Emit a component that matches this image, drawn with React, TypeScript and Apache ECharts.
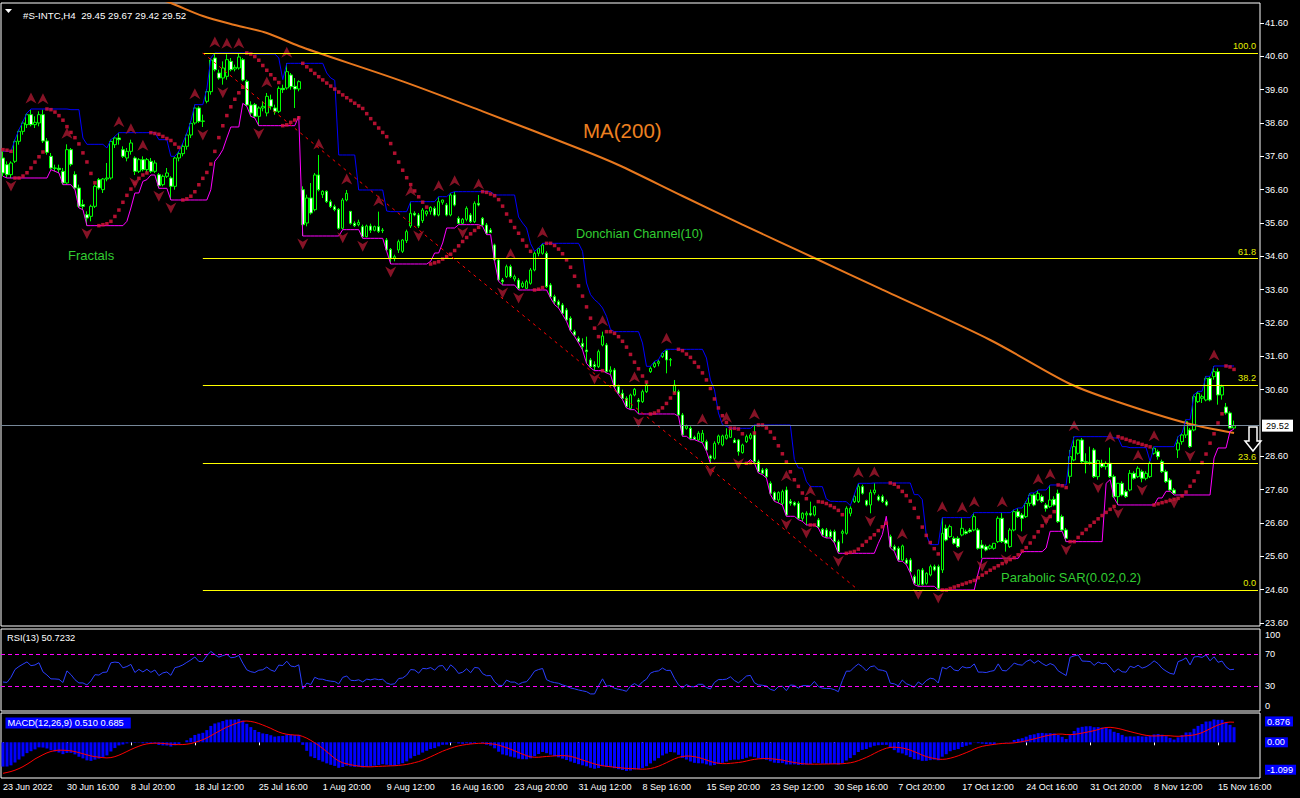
import React, { useEffect, useRef } from "react";
import * as echarts from "echarts";

const FONT = '"Liberation Sans", Arial, sans-serif';

const headerText = "#S-INTC,H4  29.45 29.67 29.42 29.52";
const rsiTitle = "RSI(13) 50.7232";
const macdTitle = "MACD(12,26,9) 0.510 0.685";

// H4 bars [open, high, low, close], 23 Jun 2022 12:00 .. 16 Nov 2022 20:00
const ohlc: number[][] = [
  [37.55,37.75,37.00,37.10],[37.35,37.45,36.95,37.05],[37.05,37.45,36.95,37.40],[37.45,38.10,37.40,38.05],
  [38.05,38.40,37.95,38.35],[38.35,38.65,38.25,38.60],[38.55,38.90,38.45,38.85],[38.85,39.02,38.50,38.55],
  [38.55,38.80,38.45,38.62],[38.60,38.95,38.50,38.85],[38.85,39.00,38.00,38.06],[38.06,38.15,37.65,37.72],
  [37.60,37.70,37.20,37.25],[37.25,37.35,37.15,37.24],[37.24,37.35,37.10,37.20],[37.15,37.25,36.75,36.80],
  [36.80,37.96,36.75,37.80],[37.80,37.85,37.30,37.36],[37.05,37.15,36.60,36.65],[36.65,36.75,36.05,36.10],
  [36.15,36.30,36.00,36.10],[35.85,35.95,35.52,35.75],[35.80,36.15,35.65,36.10],[36.10,36.75,36.05,36.70],
  [36.90,36.95,36.60,36.65],[36.60,36.95,36.50,36.92],[36.92,37.40,36.85,36.95],[36.95,38.10,36.90,38.05],
  [37.95,38.20,37.85,38.15],[38.15,38.31,37.95,38.10],[37.80,37.90,37.55,37.60],[37.55,37.85,37.45,37.75],
  [37.75,38.10,37.65,38.00],[37.55,37.60,37.04,37.15],[37.15,37.55,37.10,37.50],[37.50,37.60,37.15,37.20],
  [37.20,37.55,37.12,37.50],[37.45,37.55,37.10,37.15],[37.15,37.48,37.10,37.40],[37.05,37.10,36.64,36.72],
  [36.75,37.05,36.70,37.00],[37.00,37.25,36.95,37.10],[36.95,37.00,36.29,36.70],[36.70,37.60,36.60,37.55],
  [37.55,37.75,37.45,37.68],[37.68,38.00,37.60,37.90],[37.90,38.30,37.80,38.24],[38.24,38.65,38.15,38.59],
  [38.60,39.15,38.55,39.05],[39.05,39.10,38.60,38.65],[38.65,38.85,38.48,38.66],[39.25,39.62,39.19,39.54],
  [39.54,40.55,39.45,40.49],[40.55,40.70,40.15,40.20],[40.10,40.20,39.90,39.95],[39.95,40.45,39.75,40.25],
  [40.00,40.66,39.90,40.50],[40.45,40.55,40.15,40.20],[40.22,40.35,40.15,40.27],[40.25,40.67,40.20,40.58],
  [40.50,40.55,39.85,39.89],[39.85,39.90,39.10,39.14],[39.14,39.25,38.80,38.90],[39.15,39.20,38.75,38.80],
  [38.80,39.10,38.52,39.05],[39.05,39.25,38.95,39.10],[38.90,39.50,38.80,39.40],[39.30,39.45,39.00,39.10],
  [39.05,39.15,38.85,38.95],[38.95,39.70,38.90,39.64],[39.64,39.75,39.50,39.60],[39.65,40.39,39.60,40.14],
  [40.04,40.10,39.60,39.69],[39.70,39.95,39.05,39.62],[39.62,39.88,39.55,39.84],[36.60,36.70,35.21,35.55],
  [35.60,36.45,35.50,36.35],[36.35,36.80,35.85,35.90],[36.00,37.10,35.95,37.04],[37.04,37.64,36.55,36.60],
  [36.45,36.58,36.35,36.55],[36.55,36.58,36.20,36.24],[36.24,36.30,36.05,36.09],[36.09,36.15,35.95,36.00],
  [36.01,36.05,35.40,35.44],[35.44,36.35,35.40,36.29],[36.29,36.59,36.25,36.49],[35.95,35.96,35.55,35.59],
  [35.59,35.65,35.48,35.52],[35.55,35.70,35.50,35.62],[35.49,35.55,35.14,35.19],[35.19,35.55,35.17,35.51],
  [35.51,35.58,35.30,35.38],[35.38,35.52,35.35,35.49],[35.49,35.94,35.30,35.35],[35.37,35.45,35.30,35.39],
  [35.09,35.15,34.75,34.79],[34.81,34.85,34.37,34.54],[34.54,34.65,34.45,34.59],[34.79,35.10,34.70,35.04],
  [34.75,35.12,34.70,35.09],[35.07,35.40,35.00,35.34],[35.51,36.24,35.45,35.89],[35.89,35.95,35.80,35.84],
  [35.84,35.90,35.45,35.51],[35.67,36.05,35.60,35.99],[35.87,35.98,35.80,35.95],[35.95,36.10,35.85,36.07],
  [36.04,36.10,35.80,35.84],[35.84,36.39,35.80,36.24],[36.22,36.30,36.15,36.29],[36.14,36.20,35.80,35.84],
  [35.84,36.50,35.80,36.44],[36.44,36.54,36.10,36.14],[35.74,35.80,35.55,35.59],[35.59,35.75,35.55,35.71],
  [35.71,36.10,35.65,36.04],[35.84,35.90,35.60,35.64],[35.64,36.25,35.60,36.19],[36.19,36.44,36.10,36.14],
  [35.74,35.78,35.50,35.54],[35.54,35.60,35.25,35.29],[35.39,35.45,35.30,35.31],[34.94,34.98,34.45,34.49],
  [34.49,34.55,33.85,33.89],[33.89,33.95,33.74,33.84],[33.99,34.35,33.95,34.29],[34.29,34.35,33.95,33.99],
  [33.92,34.05,33.85,33.99],[33.89,33.95,33.59,33.64],[33.69,33.85,33.65,33.79],[33.64,33.90,33.62,33.84],
  [33.79,34.25,33.75,34.19],[34.19,34.75,34.15,34.69],[34.69,34.85,34.60,34.84],[34.69,34.99,34.65,34.94],
  [34.69,34.75,33.65,33.69],[33.74,33.80,33.35,33.39],[33.39,33.45,33.15,33.24],[33.24,33.30,33.05,33.14],
  [33.14,33.20,32.85,32.89],[32.99,33.05,32.65,32.69],[32.74,32.80,32.35,32.39],[32.34,32.40,32.20,32.24],
  [32.14,32.20,32.00,32.04],[31.99,32.14,31.79,31.89],[31.79,32.19,31.39,31.74],[31.49,31.55,31.25,31.29],
  [31.35,31.45,31.17,31.29],[31.29,31.80,31.25,31.74],[31.94,32.34,31.90,32.21],[31.94,32.00,31.10,31.14],
  [31.14,31.30,31.05,31.19],[31.19,31.25,30.65,30.69],[30.69,30.75,30.45,30.49],[30.49,30.60,30.30,30.34],
  [30.34,30.40,30.05,30.09],[30.04,30.48,30.00,30.44],[30.44,30.65,30.40,30.61],[30.29,30.35,29.87,30.24],
  [30.24,30.60,30.20,30.54],[30.54,30.80,30.50,30.74],[31.14,31.30,31.10,31.24],[31.29,31.45,31.25,31.39],
  [31.39,31.50,31.30,31.44],[31.59,31.72,31.55,31.69],[31.77,31.81,31.09,31.49],[31.49,31.55,31.30,31.50],
  [30.54,30.89,30.50,30.74],[30.54,30.60,29.80,29.84],[29.84,29.90,29.20,29.24],[29.44,29.55,29.40,29.51],
  [29.44,29.50,29.10,29.14],[29.17,29.22,29.10,29.11],[29.09,29.35,29.05,29.29],[29.04,29.39,29.00,29.29],
  [29.04,29.10,28.75,28.79],[28.61,28.65,28.39,28.54],[28.54,29.05,28.50,28.99],[29.01,29.25,28.95,29.21],
  [28.94,29.25,28.90,29.21],[29.14,29.44,29.10,29.24],[29.17,29.42,29.15,29.40],[29.09,29.15,29.00,29.01],
  [29.09,29.12,28.62,28.74],[28.71,28.98,28.68,28.94],[29.04,29.25,29.00,29.19],[29.14,29.30,29.10,29.24],
  [29.24,29.54,28.40,28.44],[28.44,28.50,28.10,28.14],[28.19,28.25,28.05,28.09],[28.21,28.25,27.95,27.99],
  [27.79,27.85,27.45,27.49],[27.51,27.55,27.25,27.29],[27.29,27.55,27.20,27.51],[27.19,27.60,27.14,27.54],
  [27.59,27.69,26.80,26.84],[27.25,27.32,27.12,27.19],[27.21,27.25,27.10,27.14],[27.19,27.25,26.70,26.74],
  [26.74,26.92,26.65,26.89],[26.84,26.95,26.54,26.89],[26.89,27.24,26.80,26.84],[26.84,27.12,26.80,27.09],
  [26.69,26.75,26.45,26.49],[26.41,26.45,26.20,26.24],[26.39,26.45,26.15,26.19],[26.34,26.40,26.15,26.19],
  [26.34,26.40,26.00,26.04],[26.04,26.10,25.69,25.74],[26.29,26.40,25.99,26.34],[26.29,27.10,26.25,27.04],
  [26.89,27.10,26.80,27.04],[27.24,27.45,27.20,27.39],[27.24,27.79,27.20,27.69],[27.69,27.75,27.45,27.49],
  [27.27,27.30,27.10,27.14],[27.14,27.60,26.89,27.51],[27.51,27.80,27.45,27.59],[27.39,27.45,27.25,27.29],
  [27.39,27.45,27.20,27.24],[27.24,27.30,27.10,27.14],[26.19,26.25,25.85,25.89],[25.89,25.95,25.75,25.79],
  [25.84,25.90,25.45,25.49],[25.49,25.95,25.45,25.91],[25.49,25.55,25.35,25.39],[25.49,25.55,25.10,25.14],
  [24.99,25.05,24.75,24.79],[24.74,25.20,24.70,25.19],[25.19,25.25,24.72,24.76],[24.79,25.12,24.75,25.09],
  [25.04,25.35,25.00,25.29],[25.29,25.35,25.15,25.19],[25.29,25.35,24.59,24.64],[25.19,26.76,25.10,26.29],
  [26.44,26.55,26.05,26.09],[26.19,26.55,26.15,26.49],[26.14,26.20,25.95,25.99],[26.14,26.20,25.85,25.89],
  [26.24,26.74,26.20,26.44],[26.34,26.40,26.25,26.29],[26.39,26.45,26.30,26.34],[26.39,26.91,26.35,26.79],
  [26.39,26.45,25.80,25.84],[25.94,26.09,25.54,25.84],[25.89,25.95,25.75,25.79],[25.84,25.95,25.80,25.91],
  [25.84,26.00,25.80,25.99],[26.04,26.80,26.00,26.74],[26.74,26.91,26.00,26.04],[26.09,26.15,25.74,25.99],
  [25.89,26.45,25.85,26.39],[26.39,27.00,26.35,26.94],[26.94,27.05,26.75,26.79],[26.84,26.90,26.35,26.74],
  [26.79,27.25,26.75,27.19],[27.19,27.50,27.10,27.44],[27.44,27.50,27.10,27.14],[27.29,27.59,27.25,27.49],
  [27.39,27.45,27.20,27.24],[27.14,27.20,26.94,27.04],[27.09,27.74,27.05,27.29],[27.31,27.40,27.10,27.14],
  [27.49,27.60,26.60,26.64],[26.79,26.85,26.35,26.39],[26.39,26.45,26.04,26.14],[28.00,28.79,27.79,28.59],
  [28.49,29.19,28.45,28.89],[28.69,29.10,28.65,29.09],[29.09,29.15,28.40,28.44],[28.44,28.69,28.09,28.42],
  [28.42,28.89,28.35,28.39],[28.79,28.85,27.95,27.99],[27.99,28.50,27.90,28.47],[28.39,28.50,28.25,28.29],
  [28.29,28.45,28.20,28.39],[28.39,28.86,27.95,27.99],[27.99,28.05,27.35,27.39],[27.39,27.80,27.14,27.79],
  [27.79,27.85,27.40,27.44],[27.54,27.60,27.35,27.39],[27.59,28.19,27.55,28.09],[28.09,28.15,27.90,27.94],
  [27.99,28.30,27.95,28.24],[28.14,28.20,27.82,27.94],[27.94,28.15,27.88,28.09],[27.99,28.45,27.95,28.39],
  [28.69,28.89,28.65,28.84],[28.74,28.80,28.50,28.59],[28.44,28.50,28.10,28.14],[28.14,28.20,27.80,27.84],
  [27.89,27.95,27.55,27.59],[27.59,27.65,27.44,27.49],[28.79,29.19,28.55,29.00],[29.04,29.30,28.95,29.24],
  [29.24,29.70,29.15,29.64],[29.39,29.45,28.85,28.89],[29.39,30.45,29.35,30.39],[30.24,30.55,30.20,30.49],
  [30.34,30.45,30.20,30.39],[30.29,31.00,30.25,30.94],[30.94,31.00,30.25,30.29],[30.99,31.31,30.90,31.14],
  [31.14,31.24,30.15,30.44],[30.44,30.75,30.30,30.69],[30.08,30.20,29.85,29.90],[29.90,29.95,29.44,29.45],
  [29.45,29.67,29.42,29.52],
];

const emptyRightBars = 6;
const tickEvery = 16;
const tickLabels = [
  "23 Jun 2022", "30 Jun 16:00", "8 Jul 20:00", "18 Jul 12:00", "25 Jul 16:00",
  "1 Aug 20:00", "9 Aug 12:00", "16 Aug 16:00", "23 Aug 20:00", "31 Aug 12:00",
  "8 Sep 16:00", "15 Sep 20:00", "23 Sep 12:00", "30 Sep 16:00", "7 Oct 20:00",
  "17 Oct 12:00", "24 Oct 16:00", "31 Oct 20:00", "8 Nov 12:00", "15 Nov 16:00",
];
// 29.60 is covered by the last-price label in the reference
const priceTicks = [41.6, 40.6, 39.6, 38.6, 37.6, 36.6, 35.6, 34.6, 33.6, 32.6, 31.6, 30.6, 28.6, 27.6, 26.6, 25.6, 24.6, 23.6];

// MA(200) at these bars
const maBars = [36, 42, 50, 58, 66, 74, 79, 100, 120, 145, 154, 170, 185, 203, 220, 247, 267, 279, 296, 308];
const maValues = [42.45, 42.2, 41.81, 41.54, 41.3, 40.91, 40.7, 39.85, 38.95, 37.79, 37.34, 36.41, 35.55, 34.55, 33.6, 32.09, 30.77, 30.23, 29.6, 29.3];

const fibFromBar = 50;
const fibHigh = 40.7;
const fibToBar = 214;
const fibLow = 24.59;
const fibLevels = [0, 23.6, 38.2, 61.8, 100];
const lastPrice = 29.52;

const donchianPeriod = 10;
const sarStep = 0.02;
const sarMax = 0.2;
const sarSeed = { up: false, sar: 37.8, ep: 37.0 };
const rsiPeriod = 13;
const rsiSeed = { gain: 0.1, loss: 0.186 };
const rsiLevels = [30, 70];
const macdFast = 12;
const macdSlow = 26;
const macdSignalPeriod = 9;
const macdSeed = { fast: 37.9, slow: 38.72, signalHistory: -1.08 };
const macdTop = 0.876;
const macdBottom = -1.099;

function compute() {
  const n = ohlc.length;
  const H = ohlc.map((r) => r[1]);
  const L = ohlc.map((r) => r[2]);
  const C = ohlc.map((r) => r[3]);
  const dcUp: number[] = [];
  const dcLo: number[] = [];
  for (let i = 0; i < n; i++) {
    const s = Math.max(0, i - donchianPeriod + 1);
    dcUp.push(Math.max(...H.slice(s, i + 1)));
    dcLo.push(Math.min(...L.slice(s, i + 1)));
  }
  // Parabolic SAR
  const sar: number[] = [];
  let up = sarSeed.up, s0 = sarSeed.sar, ep = sarSeed.ep, af = sarStep;
  sar.push(s0);
  for (let i = 1; i < n; i++) {
    let s = s0 + af * (ep - s0);
    if (up) {
      s = Math.min(s, L[i - 1], L[Math.max(0, i - 2)]);
      if (L[i] < s) { up = false; s = ep; ep = L[i]; af = sarStep; }
      else if (H[i] > ep) { ep = H[i]; af = Math.min(af + sarStep, sarMax); }
    } else {
      s = Math.max(s, H[i - 1], H[Math.max(0, i - 2)]);
      if (H[i] > s) { up = true; s = ep; ep = H[i]; af = sarStep; }
      else if (L[i] < ep) { ep = L[i]; af = Math.min(af + sarStep, sarMax); }
    }
    s0 = s;
    sar.push(s);
  }
  // Fractals
  const fUp: (number | null)[] = new Array(n).fill(null);
  const fDn: (number | null)[] = new Array(n).fill(null);
  for (let i = 2; i < n - 2; i++) {
    if (H[i] >= H[i - 1] && H[i] >= H[i - 2] && H[i] > H[i + 1] && H[i] > H[i + 2]) fUp[i] = H[i];
    if (L[i] <= L[i - 1] && L[i] <= L[i - 2] && L[i] < L[i + 1] && L[i] < L[i + 2]) fDn[i] = L[i];
  }
  // RSI
  const rsi: number[] = [];
  let ag = rsiSeed.gain, al = rsiSeed.loss;
  for (let i = 0; i < n; i++) {
    if (i > 0) {
      const d = C[i] - C[i - 1];
      ag = (ag * (rsiPeriod - 1) + Math.max(d, 0)) / rsiPeriod;
      al = (al * (rsiPeriod - 1) + Math.max(-d, 0)) / rsiPeriod;
    }
    rsi.push(al === 0 ? 100 : 100 - 100 / (1 + ag / al));
  }
  // MACD
  const kf = 2 / (macdFast + 1), ks = 2 / (macdSlow + 1);
  let ef = macdSeed.fast, es = macdSeed.slow;
  const macd: number[] = [];
  for (let i = 0; i < n; i++) {
    ef += kf * (C[i] - ef);
    es += ks * (C[i] - es);
    macd.push(ef - es);
  }
  const signal: number[] = [];
  for (let i = 0; i < n; i++) {
    let sum = 0;
    for (let k = i - macdSignalPeriod + 1; k <= i; k++) sum += k >= 0 ? macd[k] : macdSeed.signalHistory;
    signal.push(sum / macdSignalPeriod);
  }
  return { n, dcUp, dcLo, sar, fUp, fDn, rsi, macd, signal };
}

export default function App() {
  const ref = useRef<HTMLDivElement>(null);
  useEffect(() => {
    if (!ref.current) return;
    const chart = echarts.init(ref.current, null, { renderer: "svg" });
    const d = compute();
    const nCat = d.n + emptyRightBars;
    const cats = Array.from({ length: nCat }, (_, i) => String(i));
    const maLine: (number | null)[] = new Array(nCat).fill(null);
    maBars.forEach((b, k) => (maLine[b] = maValues[k]));
    const fibPrice = (lv: number) => fibLow + (fibHigh - fibLow) * lv / 100;
    const lastCat = nCat - 1;
    const white = "#ffffff";
    const axisFont = { color: white, fontSize: 9.2, fontFamily: FONT };
    const xBase = (gi: number, showLabels: boolean) => ({
      type: "category",
      gridIndex: gi,
      data: cats,
      show: showLabels,
      boundaryGap: true,
      axisLine: { show: false },
      splitLine: { show: false },
      axisTick: { show: showLabels, interval: tickEvery - 1, alignWithLabel: true, length: 3, lineStyle: { color: white } },
      axisLabel: {
        show: showLabels,
        interval: tickEvery - 1,
        align: "left",
        margin: 4,
        ...axisFont,
        fontSize: 9,
        formatter: (_v: string, idx: number) => (idx % tickEvery === 0 ? tickLabels[idx / tickEvery] ?? "" : ""),
      },
    });
    const yLab = (gi: number, min: number, max: number, values: number[], fmt: (v: number) => string, va: string, extra: any = {}, ticks = false) => ({
      type: "value",
      gridIndex: gi,
      position: "right",
      min,
      max,
      scale: true,
      splitLine: { show: false },
      axisLine: { show: false },
      axisTick: { show: ticks, customValues: values, length: 4, lineStyle: { color: white } },
      axisLabel: { show: values.length > 0, customValues: values, formatter: fmt, margin: 5, verticalAlign: va, ...axisFont, ...extra },
    });
    const macdLab = { color: white, backgroundColor: "#0000ff", padding: [1, 3, 0, 2] };

    const option: any = {
      animation: false,
      backgroundColor: "#000000",
      title: {
        text: headerText,
        left: 18,
        top: 5,
        textStyle: { color: white, fontSize: 9.7, fontWeight: "normal", fontFamily: FONT },
      },
      grid: [
        { left: 1, right: 40, top: 3, height: 623, show: true, borderColor: white, borderWidth: 1, backgroundColor: "transparent" },
        { left: 1, right: 40, top: 629, height: 82, show: true, borderColor: white, borderWidth: 1, backgroundColor: "transparent" },
        { left: 1, right: 40, top: 713, height: 65, show: true, borderColor: white, borderWidth: 1, backgroundColor: "transparent" },
      ],
      xAxis: [xBase(0, false), xBase(1, false), xBase(2, true)],
      yAxis: [
        yLab(0, 23.509, 42.2, priceTicks, (v) => v.toFixed(2), "middle", {}, true),
        yLab(1, -1.25, 101.25, [30, 70], (v) => String(v), "middle"),
        yLab(1, -1.25, 101.25, [100], (v) => String(v), "top"),
        yLab(1, -1.25, 101.25, [0], (v) => String(v), "bottom"),
        yLab(2, -1.21, 0.993, [0], (v) => v.toFixed(2), "middle", macdLab),
        yLab(2, -1.21, 0.993, [macdTop], (v) => v.toFixed(3), "top", macdLab),
        yLab(2, -1.21, 0.993, [macdBottom], (v) => v.toFixed(3), "bottom", macdLab),
      ],
      series: [
        {
          name: "fib",
          type: "line",
          xAxisIndex: 0,
          yAxisIndex: 0,
          data: new Array(nCat).fill(null),
          z: 1,
          silent: true,
          markLine: {
            silent: true,
            symbol: ["none", "none"],
            animation: false,
            data: [
              ...fibLevels.map((lv) => [
                {
                  coord: [fibFromBar, fibPrice(lv)],
                  lineStyle: { color: "#ffff00", width: 1, type: "solid" },
                  label: {
                    show: true,
                    position: "insideEndTop",
                    distance: 2,
                    formatter: lv.toFixed(1),
                    color: "#e6f000",
                    fontSize: 9.2,
                    fontFamily: FONT,
                  },
                },
                { coord: [lastCat, fibPrice(lv)] },
              ]),
              [
                { coord: [fibFromBar, fibHigh], lineStyle: { color: "#ff0000", width: 1, type: [3, 4] }, label: { show: false } },
                { coord: [fibToBar, fibLow] },
              ],
            ],
          },
        },
        {
          name: "price",
          type: "candlestick",
          xAxisIndex: 0,
          yAxisIndex: 0,
          barWidth: 3,
          z: 2,
          data: ohlc.map(([o, h, l, c]) => [o, c, l, h]),
          itemStyle: { color: "#000000", color0: "#ffffff", borderColor: "#00ff00", borderColor0: "#00ff00", borderWidth: 1 },
          markLine: {
            silent: true,
            symbol: ["none", "none"],
            animation: false,
            data: [
              {
                yAxis: lastPrice,
                lineStyle: { color: "#778899", width: 1, type: "solid" },
                label: {
                  show: true,
                  position: "end",
                  distance: 2,
                  formatter: lastPrice.toFixed(2),
                  color: "#000000",
                  backgroundColor: "#ffffff",
                  padding: [2, 4, 1, 4],
                  fontSize: 9.2,
                  fontFamily: FONT,
                },
              },
            ],
          },
        },
        {
          name: "MA200",
          type: "line",
          xAxisIndex: 0,
          yAxisIndex: 0,
          data: maLine,
          connectNulls: true,
          showSymbol: false,
          smooth: 0.3,
          lineStyle: { color: "#e8781e", width: 2 },
          z: 3,
        },
        {
          name: "DonchianUp",
          type: "line",
          xAxisIndex: 0,
          yAxisIndex: 0,
          data: d.dcUp,
          showSymbol: false,
          lineStyle: { color: "#0000ff", width: 1 },
          z: 3,
        },
        {
          name: "DonchianLo",
          type: "line",
          xAxisIndex: 0,
          yAxisIndex: 0,
          data: d.dcLo,
          showSymbol: false,
          lineStyle: { color: "#ff00ff", width: 1 },
          z: 3,
        },
        {
          name: "SAR",
          type: "scatter",
          xAxisIndex: 0,
          yAxisIndex: 0,
          data: d.sar,
          symbol: "rect",
          symbolSize: 3.5,
          itemStyle: { color: "#e0143c" },
          z: 4,
        },
        {
          name: "FractalUp",
          type: "scatter",
          xAxisIndex: 0,
          yAxisIndex: 0,
          data: d.fUp,
          symbol: "path://M0,10 L5,0 L10,10 L5,7 Z",
          symbolSize: [11, 11],
          symbolOffset: [0, -11],
          itemStyle: { color: "#a8182f" },
          z: 4,
        },
        {
          name: "FractalDn",
          type: "scatter",
          xAxisIndex: 0,
          yAxisIndex: 0,
          data: d.fDn,
          symbol: "path://M0,0 L5,10 L10,0 L5,3 Z",
          symbolSize: [11, 11],
          symbolOffset: [0, 8],
          itemStyle: { color: "#a8182f" },
          z: 4,
        },
        {
          name: "RSI",
          type: "line",
          xAxisIndex: 1,
          yAxisIndex: 1,
          data: d.rsi,
          showSymbol: false,
          lineStyle: { color: "#2b3fff", width: 1 },
          markLine: {
            silent: true,
            symbol: ["none", "none"],
            animation: false,
            label: { show: false },
            lineStyle: { color: "#ff00ff", width: 1, type: [4, 3] },
            data: rsiLevels.map((v) => ({ yAxis: v })),
          },
        },
        {
          name: "MACD",
          type: "bar",
          xAxisIndex: 2,
          yAxisIndex: 4,
          data: d.macd,
          barWidth: 3,
          itemStyle: { color: "#0000ff" },
        },
        {
          name: "Signal",
          type: "line",
          xAxisIndex: 2,
          yAxisIndex: 4,
          data: d.signal,
          showSymbol: false,
          lineStyle: { color: "#ff0000", width: 1 },
          z: 3,
        },
      ],
      graphic: [
        { type: "polygon", shape: { points: [[5, 9], [12, 9], [8.5, 13]] }, style: { fill: white } },
        { type: "text", x: 68, y: 255, style: { text: "Fractals", fill: "#32cd32", fontSize: 13, fontFamily: FONT, verticalAlign: "middle" } },
        { type: "text", x: 576, y: 234, style: { text: "Donchian Channel(10)", fill: "#32cd32", fontSize: 12.7, fontFamily: FONT, verticalAlign: "middle" } },
        { type: "text", x: 1001, y: 577, style: { text: "Parabolic SAR(0.02,0.2)", fill: "#32cd32", fontSize: 13, fontFamily: FONT, verticalAlign: "middle" } },
        { type: "text", x: 583, y: 130, style: { text: "MA(200)", fill: "#ee8020", fontSize: 20.5, fontFamily: FONT, verticalAlign: "middle" } },
        { type: "text", x: 7, y: 638, style: { text: rsiTitle, fill: white, fontSize: 9.3, fontFamily: FONT, verticalAlign: "middle" } },
        {
          type: "text",
          x: 5.5,
          y: 723,
          style: { text: macdTitle, fill: white, fontSize: 9.3, fontFamily: FONT, verticalAlign: "middle", backgroundColor: "#0000ff", padding: [1, 7, 1, 2] },
        },
        {
          type: "polygon",
          shape: { points: [[1249, 427], [1257, 427], [1257, 441], [1261, 441], [1253, 451], [1245, 441], [1249, 441]] },
          style: { fill: "#000000", stroke: white, lineWidth: 1.5 },
          z: 100,
        },
      ],
    };
    chart.setOption(option);
    return () => chart.dispose();
  }, []);
  return (
    <div
      ref={ref}
      style={{ position: "absolute", left: 0, top: 0, width: 1300, height: 798, background: "#000" }}
    />
  );
}
